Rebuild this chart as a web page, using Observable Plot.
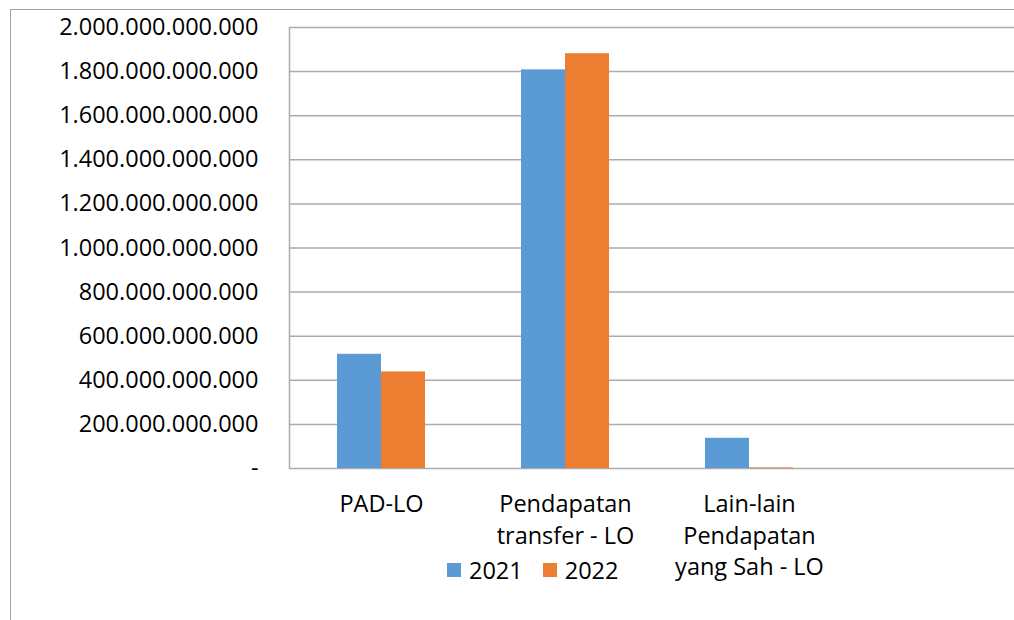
<!DOCTYPE html>
<html>
<head>
<meta charset="utf-8">
<script src="https://cdn.jsdelivr.net/npm/d3@7"></script>
<script src="https://cdn.jsdelivr.net/npm/@observablehq/plot@0.6"></script>
<style>
  html, body { margin: 0; padding: 0; background: #fff; overflow: hidden; }
  #wrap { position: relative; width: 1014px; height: 620px; font-family: "Open Sans", sans-serif; }
  #frame { position: absolute; left: 10px; top: 9px; right: -2px; bottom: -2px; border-left: 1px solid #a3a3a3; border-top: 1px solid #a3a3a3; pointer-events: none; }
  #legend { position: absolute; left: 447px; top: 554px; display: flex; align-items: center; font-size: 23.5px; color: #000; }
  #legend .sw { width: 14px; height: 14px; display: inline-block; margin-right: 8px; }
  #legend .item { display: flex; align-items: center; margin-right: 20px; }
</style>
</head>
<body>
<div id="wrap">
  <div id="chart"></div>
  <div id="frame"></div>
  <div id="legend"></div>
</div>
<script>
// Data
const categories = ["PAD-LO", "Pendapatan transfer - LO", "Lain-lain Pendapatan yang Sah - LO", " "];
const categoryLabels = ["PAD-LO", "Pendapatan\ntransfer - LO", "Lain-lain\nPendapatan\nyang Sah - LO", ""];
const years = ["2021", "2022"];
const values2021 = [518e9, 1808e9, 137e9, null];
const values2022 = [438e9, 1881e9, 3e9, null];
const yTicks = [0, 200e9, 400e9, 600e9, 800e9, 1000e9, 1200e9, 1400e9, 1600e9, 1800e9, 2000e9];
const colors = ["#5b9bd5", "#ed7d31"];

const rows = [];
categories.forEach((c, i) => {
  if (values2021[i] != null) rows.push({category: c, year: "2021", value: values2021[i]});
  if (values2022[i] != null) rows.push({category: c, year: "2022", value: values2022[i]});
});
const labelOf = new Map(categories.map((c, i) => [c, categoryLabels[i]]));
const fmt = d => d === 0 ? "-" : d3.format(",.0f")(d).replace(/,/g, ".");

const chart = Plot.plot({
  width: 1014,
  height: 620,
  marginTop: 27,
  marginBottom: 152,
  marginLeft: 289,
  marginRight: 0,
  style: {fontFamily: "Open Sans, sans-serif", fontSize: "23.5px", color: "#000", background: "transparent", overflow: "hidden"},
  x: {domain: categories, range: [289, 1025], padding: 0},
  y: {domain: [0, 2000e9], ticks: yTicks},
  color: {domain: years, range: colors},
  marks: [
    Plot.ruleY(yTicks, {stroke: "#ababab", strokeWidth: 1.5}),
    Plot.frame({anchor: "left", stroke: "#ababab", strokeWidth: 1.5}),
    Plot.barY(rows.filter(d => d.year === "2021"), {x: "category", y: "value", fill: d => d.year, insetLeft: 48, insetRight: 92}),
    Plot.barY(rows.filter(d => d.year === "2022"), {x: "category", y: "value", fill: d => d.year, insetLeft: 92, insetRight: 48}),
    Plot.axisY({ticks: yTicks, tickSize: 0, tickPadding: 31, tickFormat: fmt, fontSize: 23.5, fill: "#000", label: null}),
    Plot.axisX({tickSize: 0, tickPadding: 21, tickFormat: d => labelOf.get(d), fontSize: 23.5, fill: "#000", lineAnchor: "top", lineHeight: 1.35, label: null})
  ]
});
document.getElementById("chart").appendChild(chart);

const legend = document.getElementById("legend");
years.forEach((y, i) => {
  const item = document.createElement("div");
  item.className = "item";
  const sw = document.createElement("span");
  sw.className = "sw";
  sw.style.background = colors[i];
  const t = document.createElement("span");
  t.textContent = y;
  item.appendChild(sw);
  item.appendChild(t);
  legend.appendChild(item);
});
</script>
</body>
</html>
